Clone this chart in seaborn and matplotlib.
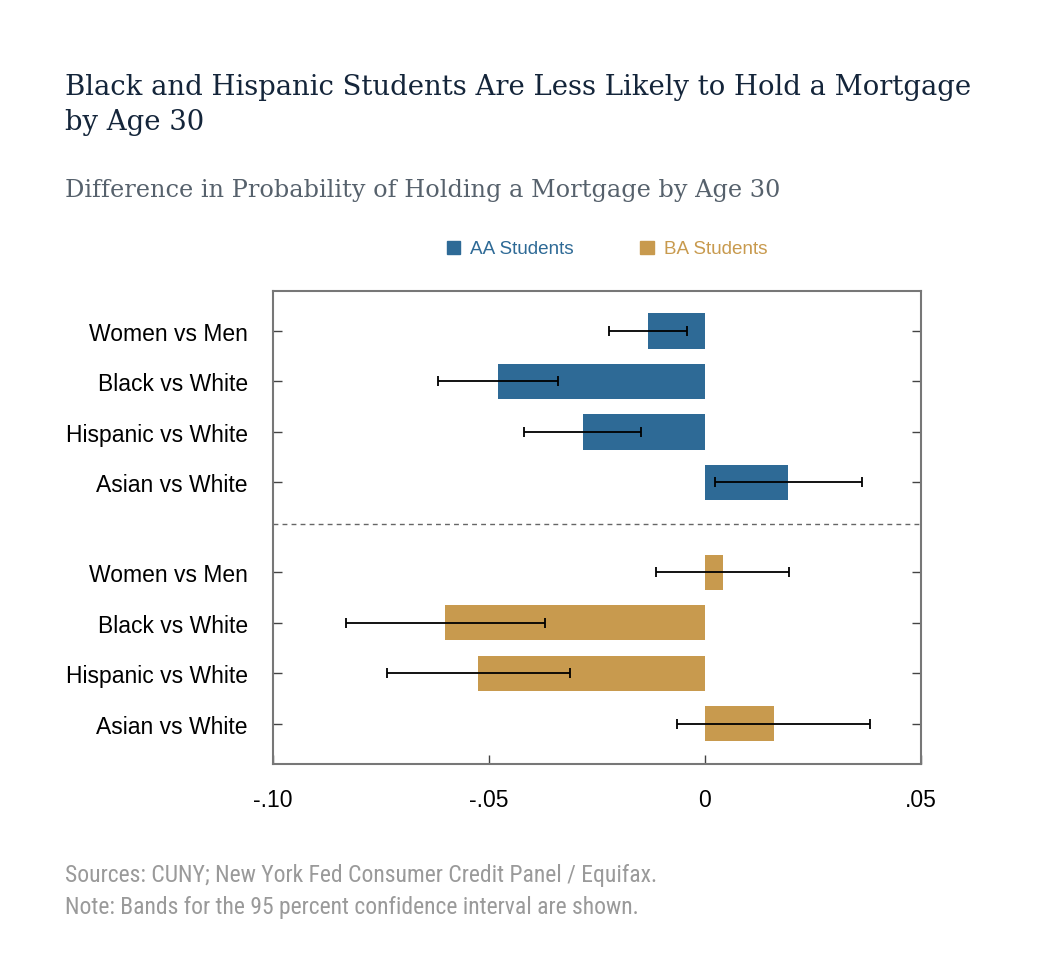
"""
Mortgage-holding gaps by age 30, AA vs BA students. Horizontal bars with 95% CI.
"""
import matplotlib
matplotlib.use('Agg')
import matplotlib.pyplot as plt
import seaborn as sns
import pandas as pd
import numpy as np

sns.set_style('white')

# --- data ---
labels = ['Women vs Men', 'Black vs White', 'Hispanic vs White', 'Asian vs White']
groups = ['AA Students', 'BA Students']
aa_diff = [-0.0132, -0.0480, -0.0282, 0.0193]
aa_lo = [-0.0222, -0.0618, -0.0418, 0.0024]
aa_hi = [-0.0042, -0.0340, -0.0147, 0.0363]
ba_diff = [0.0041, -0.0601, -0.0526, 0.0160]
ba_lo = [-0.0114, -0.0831, -0.0737, -0.0064]
ba_hi = [0.0195, -0.0371, -0.0313, 0.0383]
xticks = [-0.10, -0.05, 0, 0.05]
xticklabels = ['-.10', '-.05', '0', '.05']

colors = {'AA Students': '#2e6a96', 'BA Students': '#c89a4e'}

# row positions, with a gap between the two panels
pos_aa = np.arange(4)
pos_ba = np.arange(4) + 4.78

df = pd.DataFrame({
    'pos': np.concatenate([pos_aa, pos_ba]),
    'diff': aa_diff + ba_diff,
    'lo': aa_lo + ba_lo,
    'hi': aa_hi + ba_hi,
    'group': [groups[0]] * 4 + [groups[1]] * 4,
    'label': labels + labels,
})

fig = plt.figure(figsize=(10.62, 9.70), dpi=100)
ax = fig.add_axes([0.257, 0.2113, 0.610, 0.4876])

sns.barplot(data=df, x='diff', y='pos', hue='group', orient='h', native_scale=True,
            dodge=False, palette=colors, width=0.7, errorbar=None, legend=False,
            linewidth=0, saturation=1, ax=ax)

ax.errorbar(df['diff'], df['pos'],
            xerr=[df['diff'] - df['lo'], df['hi'] - df['diff']],
            fmt='none', ecolor='black', elinewidth=1.3, capsize=3.3, capthick=1.3, zorder=5)

ax.axhline(3.83, color='#666666', lw=1, ls=(0, (3.5, 3)))

ax.set_xlim(-0.10, 0.05)
ax.set_ylim(8.58, -0.79)
ax.set_xticks(xticks)
ax.set_xticklabels(xticklabels)
ax.set_yticks(df['pos'])
ax.set_yticklabels(df['label'])
ax.set_xlabel('')
ax.set_ylabel('')
ax.tick_params(axis='both', direction='in', length=6.5, width=1, color='#444444',
               labelsize=16.5, labelcolor='black')
ax.tick_params(axis='y', right=True, left=True, pad=18)
ax.tick_params(axis='x', bottom=True, pad=17)
for lab in ax.get_xticklabels() + ax.get_yticklabels():
    lab.set_family(['Liberation Sans', 'DejaVu Sans'])
for sp in ax.spines.values():
    sp.set_visible(True)
    sp.set_color('#777777')
    sp.set_linewidth(1.5)

# legend above the plot
for gx, g in [(0.421, groups[0]), (0.603, groups[1])]:
    fig.patches.append(plt.Rectangle((gx, 0.737), 0.0125, 0.0136, transform=fig.transFigure,
                                     color=colors[g]))
    fig.text(gx + 0.0220, 0.743, g, color=colors[g], fontsize=13.6, va='center',
             family=['Liberation Sans', 'DejaVu Sans'])

serif = ['DejaVu Serif']
fig.text(0.061, 1 - 95 / 970, 'Black and Hispanic Students Are Less Likely to Hold a Mortgage',
         fontsize=19.8, color='#14253a', family=serif, va='baseline')
fig.text(0.061, 1 - 130 / 970, 'by Age 30',
         fontsize=19.8, color='#14253a', family=serif, va='baseline')
fig.text(0.061, 1 - 197 / 970, 'Difference in Probability of Holding a Mortgage by Age 30',
         fontsize=17.3, color='#56616c', family=serif, va='baseline')

cond = ['Roboto Condensed', 'Liberation Sans Narrow', 'Roboto']
fig.text(0.061, 1 - 882 / 970, 'Sources: CUNY; New York Fed Consumer Credit Panel / Equifax.',
         fontsize=17, color='#9a9a9a', family=cond, va='baseline')
fig.text(0.061, 1 - 914 / 970, 'Note: Bands for the 95 percent confidence interval are shown.',
         fontsize=17, color='#9a9a9a', family=cond, va='baseline')

fig.savefig('out.png', dpi=100)
